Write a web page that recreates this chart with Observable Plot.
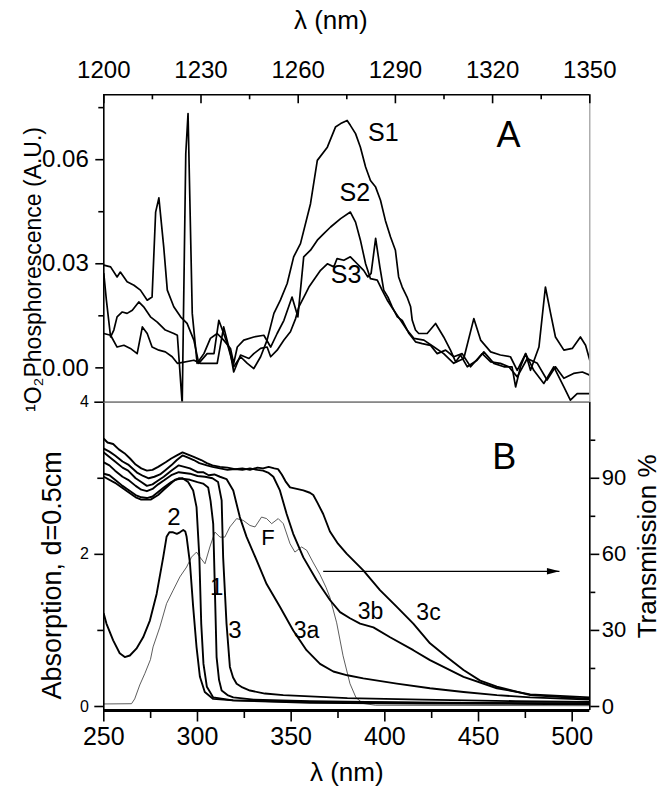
<!DOCTYPE html>
<html><head><meta charset="utf-8">
<script src="https://cdn.jsdelivr.net/npm/d3@7"></script>
<script src="https://cdn.jsdelivr.net/npm/@observablehq/plot@0.6"></script>
<style>
body{margin:0;background:#fff}
#wrap{position:relative;width:671px;height:794px;background:#fff}
#wrap svg{position:absolute;left:0;top:0;overflow:visible}
</style>
</head><body><div id="wrap"></div>
<script>
// ---------- Panel A: 1O2 phosphorescence, lambda 1200-1350 nm ----------
const S1 = [[1200,0.0296],[1202.1,0.0291],[1204.1,0.0262],[1205.1,0.0276],[1207.2,0.0248],[1209.3,0.0238],[1211.3,0.0224],[1213.4,0.0195],[1214.9,0.0204],[1216,0.0449],[1217,0.049],[1218.5,0.0348],[1219.6,0.0224],[1221.6,0.0176],[1223.7,0.0147],[1225.7,0.0128],[1227.8,0.008],[1229.3,0.0013],
[1231.9,0.0041],[1234,0.0041],[1235.5,0.0137],[1237,0.0099],[1238.1,0.007],[1240.1,0.0003],[1242.2,0.0032],[1244.3,0.0013],[1246.3,-0.0002],[1248.4,0.0032],[1250.4,0.008],[1252.5,0.0157],[1254.5,0.0195],[1256.6,0.0243],[1258.6,0.032],[1260.7,0.0358],[1263.8,0.0473],[1265.9,0.0598],[1269,0.0636],[1271.5,0.0694],[1273.1,0.0704],[1275.1,0.0713],[1276.1,0.0699],[1277.7,0.0675],[1279.2,0.0636],[1280.8,0.0579],[1282.3,0.054],[1283.9,0.0521],[1285.4,0.0483],[1286.9,0.0425],[1288.5,0.0377],[1290,0.0339],[1291,0.0262],[1292.1,0.0233],[1293.6,0.0204],[1294.7,0.0176],[1295.2,0.0137],[1296.2,0.0109],[1297.2,0.0099],[1299.8,0.0099],[1302.4,0.0128],[1304.9,0.0089],[1307,0.0051],[1308.6,0.0017],[1310.1,0.0037],[1312.2,0.0003],[1315.2,0.0022],[1317.3,0.0046],[1320.4,0.0013],[1323.5,0.0003],[1326,0.0003],[1327.1,-0.0055],[1328.6,0.0003],[1330.2,0.0041],[1331.7,-0.0007],[1334.3,0.006],[1336.3,0.0233],[1337.9,0.0157],[1339.4,0.0089],[1342,0.0051],[1344.6,0.0056],[1347.1,0.0089],[1348.7,0.0065],[1350,0.0022]];
const S2 = [[1200,0.0272],[1200.8,0.0195],[1202.1,0.0089],[1203.1,0.0109],[1204.1,0.0147],[1205.7,0.0161],[1207.2,0.0157],[1208.8,0.0166],[1210.8,0.019],[1212.3,0.0176],[1214.4,0.0147],[1216.5,0.0132],[1219,0.0109],[1221.6,0.0099],[1222.7,0.0094],[1224.2,-0.0105],[1225.3,0.0617],[1226,0.0733],[1227.3,0.0157],[1228.8,0.0013],
[1230.9,0.0041],[1232.9,0.0085],[1235,0.0099],[1237,0.008],[1239.1,0.0056],[1240.1,0.0013],[1241.2,0.006],[1243.2,0.008],[1246.3,0.0089],[1249.4,0.0094],[1251.5,0.006],[1253.5,0.0099],[1255.6,0.0137],[1258.1,0.0204],[1259.9,0.0147],[1261.7,0.032],[1263.8,0.0339],[1265.9,0.0368],[1267.9,0.0387],[1270,0.0406],[1273.1,0.043],[1276.1,0.0449],[1277.7,0.042],[1279.2,0.0368],[1280.8,0.030],[1282.3,0.0257],[1284.4,0.0253],[1285.9,0.0224],[1287.5,0.0195],[1289.5,0.0166],[1291.6,0.0137],[1293.6,0.0109],[1295.7,0.0085],[1298.8,0.008],[1301.9,0.006],[1304.9,0.0041],[1308,0.0013],[1311.1,0.0027],[1314.2,0.0142],[1316.3,0.008],[1319.4,0.0046],[1322.4,0.0037],[1325.5,0.0032],[1327.6,-0.0007],[1330.2,0.0041],[1332.7,-0.0007],[1335.8,-0.0045],[1338.9,0.0003],[1342,-0.0055],[1344,-0.0093],[1346.1,-0.0074],[1350,-0.0074]];
const S3 = [[1200,0.0099],[1202.1,0.0094],[1204.1,0.006],[1206.2,0.0065],[1208.2,0.0056],[1210.3,0.0041],[1211.9,0.0118],[1213.4,0.0099],[1214.9,0.006],[1217,0.0051],[1219,0.0046],[1221.1,0.0032],[1222.7,0.0013],[1227.8,0.0022],[1229.8,0.0013],
[1231.9,0.0013],[1235,0.0013],[1237,0.0118],[1239.1,0.0041],[1240.1,-0.0012],[1242.2,0.0037],[1244.8,0.0027],[1246.3,0.0041],[1248.4,0.0056],[1250.4,0.006],[1251.5,0.0032],[1253.5,0.0051],[1255.6,0.008],[1257.6,0.0104],[1259.2,0.0142],[1260.2,0.0176],[1262.3,0.0214],[1263.3,0.0233],[1264.8,0.0253],[1266.9,0.0281],[1269,0.030],[1271,0.0291],[1272,0.0315],[1274.1,0.031],[1276.1,0.032],[1278.2,0.030],[1280.2,0.0281],[1281.5,0.0262],[1282.5,0.0272],[1283.9,0.0373],[1285.2,0.0291],[1286.4,0.0224],[1287.7,0.0204],[1289,0.0176],[1290.6,0.0147],[1292.1,0.0137],[1294.2,0.0099],[1296.2,0.0075],[1298.3,0.007],[1300.8,0.0065],[1302.9,0.0041],[1305.5,0.0051],[1308,0.0032],[1310.6,0.0041],[1313.2,0.0003],[1316.8,0.0041],[1319.4,0.0017],[1322.4,0.0013],[1325,0.0003],[1327.6,-0.0026],[1330.7,0.0027],[1333.8,0.0013],[1336.8,-0.0035],[1339.4,0.0003],[1342,-0.003],[1345,-0.0016],[1347.7,-0.0012],[1350,-0.0021]];

// ---------- Panel B: absorption (d = 0.5 cm), lambda 250-510 nm ----------
const curve1 = [[250,3.06],[253,3.04],[256,2.98],[260,2.9],[263,2.85],[267,2.78],[270,2.75],[273,2.74],[276,2.76],[279,2.82],[282,2.88],[286,2.95],[290,3.0],[293,2.99],[296,2.98],[300,2.95],[303,2.93],[305.7,2.88],[307,2.7],[308.4,2.40],[309.3,1.53],[310.2,0.65],[311.5,0.35],[312.9,0.21],[316,0.15],[319.1,0.12],[330,0.09],[360,0.07],[420,0.05],[509.4,0.04]];
const curve1b = [[250,3.02],[256,2.94],[263,2.82],[267,2.75],[270,2.72],[275,2.72],[279,2.78],[282,2.85],[288,2.98],[292,3.0],[295,2.95],[297.7,2.84],[299.5,2.62],[301,1.96],[302,1.09],[303.2,0.56],[305,0.26],[308.4,0.12],[319,0.08],[360,0.05],[420,0.04],[509.4,0.03]];
const curve2 = [[250,1.22],[251.4,1.09],[255,0.87],[258.5,0.70],[261.2,0.65],[263.9,0.67],[267.4,0.76],[271,0.91],[274.6,1.13],[278.2,1.48],[281.7,1.96],[283.5,2.23],[285,2.29],[287,2.29],[289,2.27],[290.6,2.29],[292.4,2.32],[293.5,2.3],[294.2,2.23],[296,1.88],[297.7,1.31],[299.5,0.78],[301.3,0.39],[303.9,0.19],[308.4,0.10],[319.1,0.08],[360,0.06],[420,0.05],[509.4,0.04]];
const curve3 = [[250,3.21],[253,3.17],[256,3.1],[260,3.02],[263,2.98],[267,2.9],[270,2.85],[273,2.83],[276,2.86],[279,2.92],[282,2.97],[286,3.04],[290,3.08],[293,3.07],[296,3.06],[300,3.03],[304,3.02],[308,3.0],[311,2.95],[312.9,2.71],[313.7,1.96],[315.5,1.09],[317.3,0.52],[319,0.38],[320.9,0.30],[324,0.25],[328,0.21],[336,0.17],[345.8,0.15],[380,0.11],[420,0.09],[470,0.07],[509.4,0.06]];
const curve3a = [[250,3.34],[253,3.28],[256,3.22],[260,3.14],[263,3.1],[267,3.0],[270,2.95],[273,2.9],[276,2.92],[279,2.97],[282,3.02],[286,3.1],[290,3.17],[293,3.15],[296,3.13],[300,3.08],[303,3.08],[306,3.04],[309,3.05],[312,3.02],[315.5,2.99],[319.1,2.84],[322.6,2.49],[326.2,2.23],[331.6,1.92],[336.9,1.61],[344,1.31],[351.1,1.0],[358.2,0.74],[365.4,0.56],[372.5,0.46],[380,0.41],[388.5,0.37],[406.4,0.30],[424.1,0.24],[442,0.19],[459.8,0.15],[477.6,0.12],[509.4,0.09]];
const curve3b = [[250,3.39],[253,3.35],[256,3.30],[260,3.22],[263,3.18],[268,3.07],[271,3.03],[274,3.0],[277,3.02],[280,3.05],[283,3.11],[286,3.17],[289,3.24],[292,3.30],[295,3.27],[298,3.24],[301,3.2],[305,3.17],[308,3.15],[312,3.13],[316,3.11],[320,3.12],[324,3.11],[328,3.13],[332,3.11],[335,3.10],[338,3.07],[340.5,3.02],[344,2.84],[347.6,2.53],[351.1,2.27],[356.5,1.96],[363.6,1.66],[370.7,1.40],[376.1,1.24],[381.4,1.16],[386.8,1.09],[393.9,1.04],[402.8,0.91],[415.2,0.74],[424.1,0.61],[442,0.39],[459.8,0.24],[477.6,0.16],[509.4,0.12]];
const curve3c = [[250,3.52],[252,3.47],[255,3.45],[258,3.38],[261,3.33],[264,3.26],[267,3.18],[270,3.13],[273,3.1],[276,3.11],[279,3.15],[283,3.21],[286,3.26],[289,3.3],[292,3.34],[295,3.31],[298,3.28],[302,3.24],[305,3.2],[308,3.17],[312,3.15],[316,3.14],[320,3.12],[324,3.13],[328,3.11],[332,3.14],[335,3.13],[338,3.15],[341,3.13],[343,3.12],[345,3.05],[347,2.96],[349.4,2.88],[353,2.86],[356.5,2.84],[360,2.81],[361.8,2.78],[364,2.68],[367.1,2.53],[370.7,2.3],[375,2.14],[379.6,2.01],[388.5,1.79],[397.4,1.53],[406.4,1.31],[415.2,1.09],[424.1,0.83],[433.1,0.65],[442,0.48],[450.9,0.34],[459.8,0.26],[477.6,0.15],[509.4,0.10]];
// F: transmission (%) of the filter
const curveF = [[250,1.0],[264.8,1.1],[266.5,3],[269.2,8.5],[271.9,13],[274.9,18.5],[276.3,23.5],[279.9,31.3],[283.5,40.6],[287,45.8],[290.6,51.1],[294.2,55],[296.8,58.9],[299.5,60.9],[301.3,58.9],[304,56.3],[306.6,62.9],[309.3,68.8],[312,66.8],[314.6,66.8],[317.3,70.8],[320.9,74.1],[324.4,73.4],[328,71.4],[330.7,70.8],[334.2,74.7],[336.9,74.1],[339.6,72.1],[343.1,74.1],[345.8,72.1],[349.4,64.2],[352,60.9],[355.6,62.9],[358.3,61.6],[361.6,57],[365.4,52],[368.6,47],[370.7,43],[374.3,33],[377.7,20],[381.4,9],[384.6,3.5],[388.4,1.2],[395,0.5],[509.4,0.3]];

// ---------- ticks ----------
const topTicks = [1200,1230,1260,1290,1320,1350];
const topMinor = [1215,1245,1275,1305,1335];
const phosTicks = [0, 0.03, 0.06];
const phosMinor = [0.015, 0.045, 0.075];
const bottomTicks = [250,300,350,400,450,500];
const bottomMinor = [275,325,375,425,475];
const absTicks = [0,2,4];
const absMinor = [1,3];
const transTicks = [0,30,60,90];
const transMinor = [15,45,75,105];

// ---------- annotations ----------
const labelsA = [{t:"S1",x:1286.3,y:0.0676,s:25},{t:"S2",x:1277.5,y:0.0504,s:25},{t:"S3",x:1274.8,y:0.0267,s:25},{t:"A",x:1324.9,y:0.067,s:36}];
const labelsB = [{t:"B",x:463.7,y:3.27,s:36},{t:"2",x:287.4,y:2.49,s:24},{t:"F",x:337.6,y:2.22,s:22},{t:"1",x:310.2,y:1.57,s:24},{t:"3",x:320,y:1.0,s:24},{t:"3a",x:358.2,y:1.0,s:23},{t:"3b",x:392.4,y:1.25,s:23},{t:"3c",x:423.3,y:1.24,s:23}];
const arrowB = [{x1:367.1, x2:493.2, y:1.777}];

// ---------- drawing ----------
const font = "'Liberation Sans', Arial, Helvetica, sans-serif";
const W = 671, H = 794, L = 103.3, R = 589.3, TOP = 94.3, MID = 401.7, BOT = 710;
const tidy = (pairs, k) => pairs.map(([x, y]) => ({k, x, y}));
const dataA = [...tidy(S1,"S1"), ...tidy(S2,"S2"), ...tidy(S3,"S3")];
const dataB = [...tidy(curve1,"1"), ...tidy(curve1b,"1b"), ...tidy(curve2,"2"), ...tidy(curve3,"3"), ...tidy(curve3a,"3a"), ...tidy(curve3b,"3b"), ...tidy(curve3c,"3c")];
const dataF = tidy(curveF, "F");
const yA0 = -0.0099, yA1 = 0.0787;
const yB0 = -0.0526, yB1 = 4;
const style = {fontFamily: font, background: "transparent", overflow: "visible", color: "black"};

const plotA = Plot.plot({
  width: W, height: H, marginLeft: L, marginRight: W - R, marginTop: TOP, marginBottom: H - MID,
  style,
  x: {domain: [1200, 1350]},
  y: {domain: [yA0, yA1]},
  marks: [
    Plot.line(dataA, {x: "x", y: "y", z: "k", stroke: "black", strokeWidth: 1.7, clip: true}),
    Plot.ruleX([1350], {stroke: "#9a9a9a", strokeWidth: 1.2}),
    Plot.ruleY([yA0], {stroke: "#808080", strokeWidth: 1.2}),
    Plot.ruleX([1200], {stroke: "black", strokeWidth: 1.6}),
    Plot.ruleY([yA1], {stroke: "black", strokeWidth: 1.6}),
    Plot.ruleX(topTicks, {x: d => d, y1: yA1, y2: yA1, insetBottom: -9, stroke: "black", strokeWidth: 1.6}),
    Plot.ruleX(topMinor, {x: d => d, y1: yA1, y2: yA1, insetBottom: -5, stroke: "black", strokeWidth: 1.6}),
    Plot.axisX({anchor: "top", ticks: topTicks, tickSize: 0, tickPadding: 17, fontSize: 24, tickFormat: d3.format("d"), label: null}),
    Plot.axisY({anchor: "left", ticks: phosTicks, tickSize: 8, tickPadding: 7, fontSize: 24, tickFormat: d3.format(".2f"), label: null, strokeWidth: 1.6}),
    Plot.axisY({anchor: "left", ticks: phosMinor, tickSize: 5, tickFormat: () => "", label: null, strokeWidth: 1.6}),
    Plot.text(labelsA, {x: "x", y: "y", text: "t", fontSize: "s", textAnchor: "middle", lineAnchor: "middle", fill: "black"}),
    Plot.text(["λ (nm)"], {frameAnchor: "top", dx: -16, dy: -66, lineAnchor: "bottom", fontSize: 26, fill: "black"}),
    Plot.text(["\u00B9O\u2082Phosphorescence (A.U.)"], {frameAnchor: "left", rotate: -90, dx: -63, dy: 21, lineAnchor: "bottom", textAnchor: "middle", fontSize: 23, fill: "black"})
  ]
});

const arrowHead = {draw(ctx) { ctx.moveTo(0, 0); ctx.lineTo(-12.5, -3.2); ctx.lineTo(-12.5, 3.2); ctx.closePath(); }};

const plotB = Plot.plot({
  width: W, height: H, marginLeft: L, marginRight: W - R, marginTop: MID, marginBottom: H - BOT,
  style,
  x: {domain: [250, 509.4]},
  y: {domain: [yB0, yB1]},
  marks: [
    Plot.line(dataF, {x: "x", y: d => d.y / 30, stroke: "#333", strokeWidth: 0.8, clip: true}),
    Plot.line(dataB, {x: "x", y: "y", z: "k", stroke: "black", strokeWidth: 1.9, clip: true}),
    Plot.link(arrowB, {x1: "x1", x2: "x2", y1: "y", y2: "y", stroke: "black", strokeWidth: 1.3}),
    Plot.dot(arrowB, {x: "x2", y: "y", symbol: arrowHead, fill: "black", stroke: null}),
    Plot.ruleY([yB1], {stroke: "#808080", strokeWidth: 1.2}),
    Plot.ruleX([250], {stroke: "black", strokeWidth: 1.6}),
    Plot.ruleX([509.4], {stroke: "black", strokeWidth: 1.6}),
    Plot.ruleY([yB0], {stroke: "black", strokeWidth: 3}),
    Plot.axisX({anchor: "bottom", ticks: bottomTicks, tickSize: 11.5, tickPadding: 5, fontSize: 25, tickFormat: d3.format("d"), label: null, strokeWidth: 1.6}),
    Plot.axisX({anchor: "bottom", ticks: bottomMinor, tickSize: 8, tickFormat: () => "", label: null, strokeWidth: 1.6}),
    Plot.axisY({anchor: "left", ticks: absTicks, tickSize: 9, tickPadding: 6, fontSize: 16, tickFormat: d3.format("d"), label: null, strokeWidth: 1.6}),
    Plot.axisY({anchor: "left", ticks: absMinor, tickSize: 6, tickFormat: () => "", label: null, strokeWidth: 1.6}),
    Plot.axisY({anchor: "right", ticks: transTicks.map(t => t / 30), tickSize: 9, tickPadding: 3, tickFormat: d => String(Math.round(d * 30)), fontSize: 22, label: null, strokeWidth: 1.6}),
    Plot.axisY({anchor: "right", ticks: transMinor.map(t => t / 30), tickSize: 5, tickFormat: () => "", label: null, strokeWidth: 1.6}),
    Plot.text(labelsB, {x: "x", y: "y", text: "t", fontSize: "s", textAnchor: "middle", lineAnchor: "middle", fill: "black"}),
    Plot.text(["λ (nm)"], {frameAnchor: "bottom", dy: 70, lineAnchor: "bottom", fontSize: 26, fill: "black"}),
    Plot.text(["Absorption, d=0.5cm"], {frameAnchor: "left", rotate: -90, dx: -43.3, dy: 19, lineAnchor: "bottom", textAnchor: "middle", fontSize: 27, fill: "black"}),
    Plot.text(["Transmission %"], {frameAnchor: "right", rotate: -90, dx: 66, dy: -10, lineAnchor: "bottom", textAnchor: "middle", fontSize: 26, fill: "black"})
  ]
});

const wrap = document.getElementById("wrap");
wrap.appendChild(plotB);
wrap.appendChild(plotA);
</script></body></html>
